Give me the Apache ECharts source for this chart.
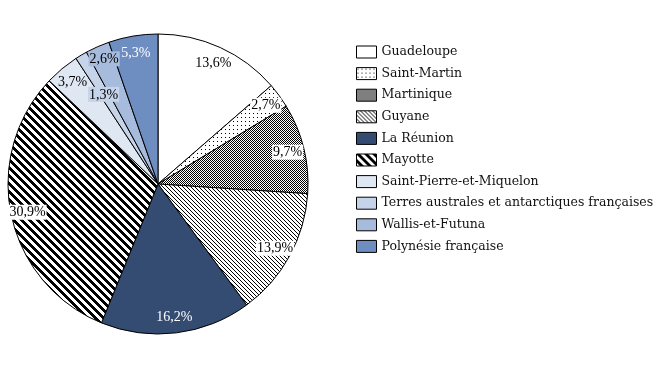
<!DOCTYPE html>
<html>
<head>
<meta charset="utf-8">
<script src="https://cdn.jsdelivr.net/npm/echarts@6/dist/echarts.min.js"></script>
<style>
html,body{margin:0;padding:0;background:#fff;}
#chart{width:663px;height:368px;}
</style>
</head>
<body>
<div id="chart"></div>
<script>
// ---- data ----
var categories = ['Guadeloupe', 'Saint-Martin', 'Martinique', 'Guyane', 'La Réunion', 'Mayotte',
  'Saint-Pierre-et-Miquelon', 'Terres australes et antarctiques françaises', 'Wallis-et-Futuna', 'Polynésie française'];
var values = [13.6, 2.7, 9.7, 13.9, 16.2, 30.9, 3.7, 1.3, 2.6, 5.3];

// ---- styles ----
function makePattern(size, fn, bg, fg) {
  var c = document.createElement('canvas');
  c.width = size; c.height = size;
  var ctx = c.getContext('2d');
  ctx.fillStyle = bg; ctx.fillRect(0, 0, size, size);
  ctx.fillStyle = fg;
  for (var y = 0; y < size; y++) for (var x = 0; x < size; x++) if (fn(x, y)) ctx.fillRect(x, y, 1, 1);
  return { image: c, repeat: 'repeat' };
}
var patDots = makePattern(4, function (x, y) { return x === 1 && y === 1; }, '#ffffff', '#000000');
var patChecker = makePattern(2, function (x, y) { return (x + y) % 2 === 0; }, '#ffffff', '#000000');
var patFine = makePattern(4, function (x, y) { var d = (x - y + 8) % 4; return d === 0; }, '#ffffff', '#000000');
var patThick = makePattern(8, function (x, y) { var d = (x - y + 16) % 8; return d < 4; }, '#ffffff', '#000000');

var sliceFills = ['#ffffff', patDots, patChecker, patFine, '#354c72', patThick,
  '#dfe7f3', '#c6d4ea', '#a7bbdc', '#6e8dc1'];
var labelBgs = ['#ffffff', '#ffffff', '#ffffff', '#ffffff', 'transparent', '#ffffff',
  'transparent', '#c6d4ea', '#a7bbdc', 'transparent'];
var labelColors = ['#000', '#000', '#000', '#000', '#fff', '#000', '#000', '#000', '#000', '#fff'];
var labelOffsets = [[0,0],[0,0],[0,0],[0,0],[0,0],[0,0],[0,0],[14,25],[0,-3],[0,0]];

var fontFam = '"Liberation Serif", "Times New Roman", serif';
var center = [158, 184];
var R = 150;

var rich = {};
categories.forEach(function (n, i) {
  rich['l' + i] = {
    color: labelColors[i], backgroundColor: labelBgs[i],
    fontFamily: fontFam, fontSize: 14, padding: [1, 1, 0, 1]
  };
});

var sliceData = categories.map(function (n, i) {
  return { name: n, value: values[i], itemStyle: { color: sliceFills[i] } };
});
var labelData = categories.map(function (n, i) {
  return { name: n, value: values[i], label: { offset: labelOffsets[i] } };
});

var chart = echarts.init(document.getElementById('chart'), null, { renderer: 'canvas' });
chart.setOption({
  animation: false,
  backgroundColor: '#ffffff',
  legend: {
    orient: 'vertical',
    left: 351, top: 40,
    data: categories,
    itemWidth: 20, itemHeight: 12, itemGap: 7.6,
    icon: 'rect',
    itemStyle: { borderColor: '#000', borderWidth: 1 },
    textStyle: { fontFamily: '"DejaVu Serif", serif', fontSize: 12.5, lineHeight: 14, color: '#111' },
    selectedMode: false
  },
  series: [
    {
      type: 'pie', center: center, radius: [0, R], startAngle: 90, clockwise: true,
      silent: true, avoidLabelOverlap: false,
      itemStyle: { borderColor: '#000', borderWidth: 1 },
      label: { show: false }, labelLine: { show: false },
      emphasis: { disabled: true },
      data: sliceData
    },
    {
      type: 'pie', center: center, radius: [111, R], startAngle: 90, clockwise: true,
      silent: true, avoidLabelOverlap: false,
      itemStyle: { color: 'rgba(0,0,0,0)', borderWidth: 0 },
      labelLine: { show: false },
      emphasis: { disabled: true },
      label: {
        show: true, position: 'inside', rotate: 0,
        fontFamily: fontFam, fontSize: 14,
        formatter: function (p) {
          return '{l' + p.dataIndex + '|' + p.value.toFixed(1).replace('.', ',') + '%}';
        },
        rich: rich
      },
      data: labelData
    }
  ]
});
</script>
</body>
</html>
